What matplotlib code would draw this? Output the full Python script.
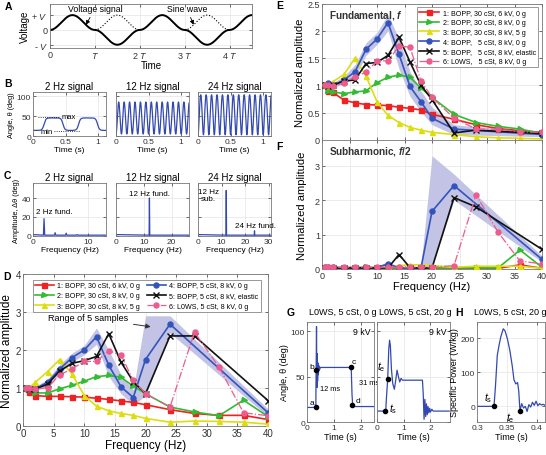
import numpy as np
import matplotlib
matplotlib.use("Agg")
import matplotlib.pyplot as plt

plt.rcParams.update({
    "font.family": ["Liberation Sans", "DejaVu Sans"],
    "mathtext.fontset": "custom",
    "mathtext.rm": "Liberation Sans",
    "mathtext.it": "Liberation Sans:italic",
    "mathtext.bf": "Liberation Sans:bold",
    "mathtext.bfit": "Liberation Sans:bold:italic",
    "axes.linewidth": 0.6,
})

W, H = 546, 456
BLUE = "#3349b0"
GRID = "#e4e4e4"

# ---- panel D/E/F data (normalized amplitude vs frequency) ----
FREQ = [0.5, 1, 2, 4, 6, 8, 10, 12, 14, 16, 18, 20, 24, 28, 32, 36, 40]
FREQ4 = [0.5, 1, 2, 4, 6, 8, 10, 12, 14, 16, 18, 20, 24, 40]
FREQ5 = [0.5, 1, 2, 4, 6, 8, 10, 12, 14, 16, 18, 20, 24, 28, 40]

d1 = [1.0, 0.9, 0.8, 0.78, 0.78, 0.77, 0.76, 0.73, 0.70, 0.66, 0.62, 0.56, 0.43, 0.33, 0.28, 0.28, 0.17]
d2 = [1.0, 0.95, 0.87, 0.87, 0.98, 1.07, 1.18, 1.30, 1.33, 1.28, 1.05, 0.85, 0.50, 0.37, 0.27, 0.68, 0.25]
d3 = [1.0, 1.0, 1.15, 1.43, 1.75, 1.37, 0.80, 0.52, 0.40, 0.33, 0.28, 0.20, 0.10, 0.13, 0.12, 0.10, 0.05]
d4 = [1.0, 0.97, 0.98, 1.15, 1.50, 1.80, 2.00, 2.35, 1.60, 1.03, 0.75, 1.75, 2.68, 0.35]
d5 = [1.0, 0.97, 0.97, 1.10, 1.45, 1.65, 1.72, 1.83, 2.43, 1.68, 1.17, 0.85, 2.37, 2.37, 0.67]
d6 = [1.0, 1.0, 0.98, 1.0, 1.35, 1.50, 1.70, 1.70, 1.98, 1.87, 1.20, 0.85, 0.50, 2.47, 1.55, 0.35, 0.27]
d4_lo = [0.97, 0.92, 0.92, 1.05, 1.38, 1.68, 1.88, 2.15, 1.30, 0.85, 0.55, 0.80, 2.45, 0.25]
d4_hi = [1.03, 1.02, 1.04, 1.23, 1.62, 1.92, 2.12, 2.58, 2.00, 1.35, 0.95, 2.90, 2.90, 0.45]

e1 = [1.0, 0.89, 0.87, 0.73, 0.68, 0.65, 0.64, 0.63, 0.60, 0.58, 0.55, 0.47, 0.38, 0.28, 0.21, 0.17, 0.14]
e2 = [1.0, 0.90, 0.88, 0.85, 0.88, 0.90, 1.05, 1.15, 1.19, 1.15, 0.95, 0.78, 0.47, 0.32, 0.25, 0.20, 0.12]
e3 = [1.0, 1.0, 1.07, 1.20, 1.50, 1.17, 0.70, 0.45, 0.32, 0.23, 0.18, 0.14, 0.10, 0.06, 0.04, 0.03, 0.02]
e4 = [1.0, 1.04, 1.0, 1.10, 1.25, 1.66, 1.85, 2.15, 1.57, 0.98, 0.70, 0.40, 0.20, 0.10]
e5 = [1.0, 0.98, 1.0, 1.08, 1.10, 1.40, 1.42, 1.55, 1.88, 1.43, 1.00, 0.74, 0.13, 0.18, 0.12]
e6 = [1.0, 1.0, 0.98, 1.05, 1.16, 1.24, 1.45, 1.45, 1.72, 1.70, 1.08, 0.78, 0.40, 0.20, 0.20, 0.15, 0.14]
e4_lo = [0.97, 1.0, 0.96, 1.03, 1.15, 1.55, 1.75, 2.00, 1.30, 0.80, 0.52, 0.28, 0.10, 0.06]
e4_hi = [1.03, 1.08, 1.05, 1.17, 1.38, 1.78, 1.97, 2.30, 1.85, 1.25, 0.90, 0.60, 0.28, 0.14]

f1 = [0.02] * 15 + [0.12, 0.02]
f2 = [0.03, 0.03, 0.03, 0.03, 0.03, 0.05, 0.03, 0.03, 0.03, 0.03, 0.03, 0.03, 0.03, 0.03, 0.03, 0.55, 0.05]
f3 = [0.04, 0.04, 0.04, 0.04, 0.04, 0.04, 0.04, 0.05, 0.10, 0.12, 0.12, 0.10, 0.05, 0.08, 0.08, 0.08, 0.02]
f4 = [0.06, 0.06, 0.05, 0.04, 0.04, 0.04, 0.04, 0.15, 0.03, 0.03, 0.03, 1.67, 2.42, 0.28]
f5 = [0.03, 0.03, 0.03, 0.03, 0.03, 0.03, 0.03, 0.03, 0.42, 0.04, 0.03, 0.03, 2.07, 1.80, 0.57]
f6 = [0.05] * 12 + [0.10, 2.15, 1.07, 0.23, 0.15]
f4_lo = [0.02, 0.02, 0.02, 0.02, 0.02, 0.02, 0.02, 0.08, 0.0, 0.0, 0.0, 0.05, 2.00, 0.20]
f4_hi = [0.08, 0.08, 0.08, 0.08, 0.08, 0.08, 0.08, 0.22, 0.06, 0.06, 0.10, 3.28, 2.75, 0.38]

LABELS_D = ["1: BOPP, 30 cSt, 6 kV, 0 g", "2: BOPP, 30 cSt, 8 kV, 0 g",
            "3: BOPP, 30 cSt, 8 kV, 5 g", "4: BOPP, 5 cSt, 8 kV, 0 g",
            "5: BOPP, 5 cSt, 8 kV, elastic", "6: L0WS, 5 cSt, 8 kV, 0 g"]
LABELS_E = ["1: BOPP, 30 cSt, 6 kV, 0 g", "2: BOPP, 30 cSt, 8 kV, 0 g",
            "3: BOPP, 30 cSt, 8 kV, 5 g", "4: BOPP,   5 cSt, 8 kV, 0 g",
            "5: BOPP,   5 cSt, 8 kV, elastic", "6: L0WS,   5 cSt, 8 kV, 0 g"]

# ---- panel C spectra: (frequency, peak amplitude) ----
spec_2hz = [(2, 18), (4, 3), (6, 2.5), (8, 1)]
spec_12hz = [(12, 40)]
spec_24hz = [(12, 48), (24, 5)]

# ---- panel G / H traces ----
g1_t = [0, 0.33, 0.335, 0.345, 0.355, 0.365, 0.375, 0.385, 0.395, 0.41, 0.425, 0.44, 0.46, 0.5, 1.65, 1.68, 1.71, 1.74, 1.78, 2.5]
g1_y = [16, 16, 40, 70, 105, 55, 38, 75, 45, 65, 52, 62, 57, 60, 60, 30, 16, 18, 17, 17]
g1_pts = {"a": (0.33, 16), "b": (0.335, 57), "c": (1.65, 60), "d": (1.69, 19)}
g2_t = [0, 0.30, 0.33, 0.36, 0.40, 0.44, 0.47, 0.50, 0.54, 0.59, 0.65, 0.70, 0.75, 0.80, 0.85, 0.90, 0.95, 1.70, 1.73, 1.76, 1.79,
        1.82, 1.85, 1.88, 1.91, 1.94, 1.97, 2.00, 2.05, 2.10, 2.20, 2.70]
g2_y = [12, 12, 14, 30, 47, 80, 90, 84, 58, 42, 36, 46, 57, 50, 44, 48, 46, 46, 30, 3, 25, 6, 20, 8, 17, 10, 15, 11, 14, 12, 12, 12]
h_t = [0.300, 0.3285, 0.331, 0.334, 0.337, 0.340, 0.344, 0.347, 0.351, 0.355, 0.359, 0.362, 0.365, 0.368, 0.370, 0.372,
       0.375, 0.378, 0.381, 0.384, 0.387, 0.390, 0.393, 0.396, 0.399, 0.402, 0.405, 0.408, 0.411, 0.414]
h_p = [0, 0, 60, 150, 180, 205, 228, 222, 198, 165, 120, 78, 66, 70, 45, -13, 8, -5, 0, -15, 5, -2, 12, 3, 15, 2, 8, 4, 6, 3]


def px_axes(x0, y0, x1, y1):
    return fig.add_axes([x0 / W, 1 - y1 / H, (x1 - x0) / W, (y1 - y0) / H])


def style(ax, grid=True, ls=6):
    ax.tick_params(direction="in", length=2, width=0.5, labelsize=ls, pad=1.5,
                   colors="#333333", top=True, right=True)
    for s in ax.spines.values():
        s.set_color("#777777")
    if grid:
        ax.grid(True, color=GRID, lw=0.5)
        ax.set_axisbelow(True)


fig = plt.figure(figsize=(W / 100, H / 100), dpi=100)

# ---------------- A ----------------
ax = px_axes(50, 5, 252, 49)
t = np.linspace(0, 4.5, 1200)
hump = np.sin(np.pi * t) ** 2
sign = np.where(np.floor(t) % 2 == 0, 1.0, -1.0)
ax.plot(t, hump * sign, color="k", lw=1.4)
ax.plot(t, np.where(sign < 0, hump, np.nan), color="k", lw=0.8, ls=":")
ax.set_xlim(0, 4.5)
ax.set_ylim(-1.22, 1.75)
ax.set_xticks([0, 1, 2, 3, 4])
ax.set_xticklabels(["0", "$T$", "2 $T$", "3 $T$", "4 $T$"])
ax.set_yticks([-1, 0, 1])
ax.set_yticklabels(["- $V$", "0", "+ $V$"])
style(ax, ls=6.5)
ax.set_xlabel("Time", fontsize=7, labelpad=0)
ax.set_ylabel("Voltage", fontsize=7, labelpad=1)
arrow = dict(arrowstyle="-|>", color="k", lw=0.6, mutation_scale=6, shrinkA=1, shrinkB=0)
ax.annotate("Voltage signal", xy=(0.8, 0.35), xytext=(1.0, 1.42), ha="center", va="center",
            fontsize=6.3, arrowprops=arrow)
ax.annotate("Sine wave", xy=(3.2, 0.35), xytext=(3.05, 1.42), ha="center", va="center",
            fontsize=6.3, arrowprops=arrow)

# ---------------- B ----------------
B_X = [(33, 106), (116, 189), (198, 271)]
tb = np.linspace(0, 1.12, 2000)
c = np.cos(2 * np.pi * (tb - 0.58) / 0.53)
theta2 = 29.5 - 15.5 * np.tanh(3 * (c - 0.15)) / np.tanh(3 * 0.85)
theta12 = 45 - 40 * np.cos(2 * np.pi * 12 * tb)
theta24 = 56 - 50 * np.cos(2 * np.pi * 12 * tb) - 3 * np.cos(2 * np.pi * 24 * tb)
for i, (sig, ttl) in enumerate([(theta2, "2 Hz signal"), (theta12, "12 Hz signal"), (theta24, "24 Hz signal")]):
    ax = px_axes(B_X[i][0], 93, B_X[i][1], 137)
    ax.plot(tb, sig, color=BLUE, lw=0.9)
    ax.set_xlim(0, 1.12)
    ax.set_ylim(0, 110)
    ax.set_xticks([0, 0.5, 1])
    ax.set_xticklabels(["0", "0.5", "1"])
    ax.set_yticks([0, 50, 100])
    style(ax)
    ax.set_title(ttl, fontsize=7, pad=2)
    ax.set_xlabel("Time (s)", fontsize=6, labelpad=1)
    if i == 0:
        ax.set_ylabel("Angle, θ (deg)", fontsize=5.3, labelpad=1)
        ax.plot([0.07, 0.42], [47, 47], color="k", lw=0.6, ls=":")
        ax.text(0.44, 48, "max", fontsize=5.5, va="center")
        ax.plot([0.32, 0.72], [12, 12], color="k", lw=0.6, ls=":")
        ax.text(0.30, 12, "min", fontsize=5.5, va="center", ha="right")
    else:
        ax.set_yticklabels([])

# ---------------- C ----------------
C_XLIM = [13.2, 26.2, 31]
C_XT = [[0, 10], [0, 10, 20], [0, 10, 20, 30]]
for i, spec in enumerate([spec_2hz, spec_12hz, spec_24hz]):
    ax = px_axes(B_X[i][0], 184, B_X[i][1], 237)
    fx, fy = [0.0], [1.0]
    for f0, a0 in spec:
        fx += [f0 - 0.12, f0, f0 + 0.12]
        fy += [0.4, a0, 0.4]
    fx.append(C_XLIM[i])
    fy.append(0.4)
    ax.plot(fx, fy, color=BLUE, lw=0.9)
    ax.set_xlim(0, C_XLIM[i])
    ax.set_ylim(-0.5, 56)
    ax.set_xticks(C_XT[i])
    ax.set_yticks([0, 20, 40])
    style(ax)
    ax.set_title(["2 Hz signal", "12 Hz signal", "24 Hz signal"][i], fontsize=7, pad=2)
    ax.set_xlabel("Frequency (Hz)", fontsize=6, labelpad=1)
    if i == 0:
        ax.set_ylabel("Amplitude, Δθ (deg)", fontsize=5.3, labelpad=1)
        ax.text(3.8, 26, "2 Hz fund.", fontsize=5.8, ha="center", va="center")
    else:
        ax.set_yticklabels([])
    if i == 1:
        ax.text(12, 44.5, "12 Hz fund.", fontsize=5.8, ha="center", va="center")
    if i == 2:
        ax.text(4.6, 43, "12 Hz\nsub.", fontsize=5.8, ha="center", va="center", linespacing=1.0)
        ax.text(24.5, 11, "24 Hz fund.", fontsize=5.8, ha="center", va="center")

# ---------------- D / E / F ----------------
SERIES = [
    dict(color="#ee2222", marker="s", ls="-", mfc="#ee2222"),
    dict(color="#33bb33", marker=">", ls="-", mfc="#33bb33"),
    dict(color="#dddd11", marker="^", ls="-", mfc="#dddd11"),
    dict(color="#3355bb", marker="o", ls="-", mfc="#3355bb"),
    dict(color="#111111", marker="x", ls="-", mfc="#111111"),
    dict(color="#ee5b8d", marker="o", ls="-.", mfc="#ee5b8d"),
]
BAND = "#c3c3e6"


def draw_set(ax, ys, band, lw=1.2, ms=3.6):
    xs = [FREQ, FREQ, FREQ, FREQ4, FREQ5, FREQ]
    ax.fill_between(FREQ4, band[0], band[1], color=BAND, lw=0, zorder=1)
    handles = []
    for k in range(6):
        s = SERIES[k]
        h, = ax.plot(xs[k], ys[k], color=s["color"], ls=s["ls"], lw=lw if k != 5 else 0.9,
                     marker=s["marker"], ms=ms if s["marker"] != "x" else 4,
                     mfc=s["mfc"], mec=s["color"], mew=1.0, zorder=3 + k * 0.1)
        handles.append(h)
    return handles


def frame(leg):
    leg.get_frame().set_edgecolor("#888888")
    leg.get_frame().set_linewidth(0.6)


ax = px_axes(23, 275, 268, 427)
hd = draw_set(ax, [d1, d2, d3, d4, d5, d6], (d4_lo, d4_hi))
ax.set_xlim(0, 40)
ax.set_ylim(0, 4)
ax.set_xticks(range(0, 41, 5))
ax.set_yticks(range(0, 5))
style(ax, ls=7)
ax.set_xlabel("Frequency (Hz)", fontsize=8.5, labelpad=1)
ax.set_ylabel("Normalized amplitude", fontsize=8.5, labelpad=2)
ax.annotate("Range of 5 samples", xy=(21.3, 2.6), xytext=(10.6, 2.85), ha="center", va="center",
            fontsize=6.5, arrowprops=dict(arrowstyle="-|>", color="#333333", lw=0.7, mutation_scale=7))
leg = ax.legend(hd, LABELS_D, ncol=2, loc="upper center", bbox_to_anchor=(0.505, 0.985), fontsize=5.1,
                handlelength=2.6, labelspacing=0.45, columnspacing=1.0, borderpad=0.35, handletextpad=0.5,
                fancybox=False, framealpha=1)
frame(leg)

ax = px_axes(322, 4.5, 542, 141)
he = draw_set(ax, [e1, e2, e3, e4, e5, e6], (e4_lo, e4_hi))
ax.set_xlim(0, 40)
ax.set_ylim(0, 2.5)
ax.set_xticks(range(0, 41, 5))
ax.set_xticklabels([])
ax.set_yticks([0, 0.5, 1, 1.5, 2, 2.5])
ax.set_yticklabels(["0", "0.5", "1", "1.5", "2", "2.5"])
style(ax, ls=6.5)
ax.set_ylabel("Normalized amplitude", fontsize=8, labelpad=2)
ax.text(0.03, 0.965, r"Fundamental, $\mathbfit{f}$", transform=ax.transAxes, fontsize=7.2,
        fontweight="bold", color="#333333", ha="left", va="top")
leg = ax.legend(he, LABELS_E, loc="upper right", bbox_to_anchor=(1.0, 1.0), fontsize=5.1,
                handlelength=2.8, labelspacing=0.38, borderpad=0.35, handletextpad=0.5,
                fancybox=False, framealpha=1)
frame(leg)

ax = px_axes(322, 141, 542, 270)
draw_set(ax, [f1, f2, f3, f4, f5, f6], (f4_lo, f4_hi))
ax.set_xlim(0, 40)
ax.set_ylim(0, 3.74)
ax.set_xticks(range(0, 41, 5))
ax.set_yticks([0, 1, 2, 3])
style(ax, ls=6.5)
ax.set_xlabel("Frequency (Hz)", fontsize=8, labelpad=1)
ax.set_ylabel("Normalized amplitude", fontsize=8, labelpad=6)
ax.text(0.03, 0.97, r"Subharmonic, $\mathbfit{f}$/2", transform=ax.transAxes, fontsize=7.2,
        fontweight="bold", color="#333333", ha="left", va="top")

# ---------------- G ----------------
dot = dict(marker="o", ms=3, color="k", ls="none", zorder=5)
ax = px_axes(307, 323, 374, 423)
ax.plot(g1_t, g1_y, color=BLUE, lw=0.9)
for k, (px, py) in g1_pts.items():
    ax.plot(px, py, **dot)
ax.text(0.18, 21, "a", fontsize=6, ha="center", va="center")
ax.text(0.16, 61, "b", fontsize=6, ha="center", va="center")
ax.text(1.74, 67, "c", fontsize=6, ha="center", va="center")
ax.text(1.90, 24, "d", fontsize=6, ha="center", va="center")
ax.text(0.48, 37, "12 ms", fontsize=5.3, ha="left", va="center")
ax.text(1.93, 43, "31 ms", fontsize=5.3, ha="left", va="center")
ax.text(0.95, 0.95, "9 kV", transform=ax.transAxes, fontsize=6.3, ha="right", va="top")
ax.set_xlim(0, 2.5)
ax.set_ylim(0, 110)
ax.set_xticks([0, 1, 2])
ax.set_yticks([0, 50, 100])
style(ax)
ax.set_xlabel("Time (s)", fontsize=6.5, labelpad=1)
ax.set_ylabel("Angle, θ (deg)", fontsize=6.5, labelpad=1)

ax = px_axes(377, 323, 450, 423)
ax.plot(g2_t, g2_y, color=BLUE, lw=0.9)
ax.plot(0.30, 12, **dot)
ax.plot(0.40, 47, **dot)
ax.text(0.17, 61, r"$t_{\rm e}$", fontsize=7.5, ha="center", va="center")
ax.text(0.60, 15, r"$t_{\rm s}$", fontsize=7.5, ha="center", va="center")
ax.text(0.95, 0.95, "9 kV", transform=ax.transAxes, fontsize=6.3, ha="right", va="top")
ax.set_xlim(0, 2.73)
ax.set_ylim(0, 110)
ax.set_xticks([0, 1, 2])
ax.set_yticks([0, 50, 100])
ax.set_yticklabels([])
style(ax)
ax.set_xlabel("Time (s)", fontsize=6.5, labelpad=1)

# ---------------- H ----------------
ax = px_axes(477, 323, 545, 423)
ax.plot(h_t, h_p, color=BLUE, lw=0.9)
ax.plot(0.3285, 0, **dot)
ax.plot(0.372, -13, **dot)
ax.text(0.319, 27, r"$t_{\rm s}$", fontsize=7.5, ha="center", va="center")
ax.text(0.356, -31, r"$t_{\rm e}$", fontsize=7.5, ha="center", va="center")
ax.set_xlim(0.3, 0.414)
ax.set_ylim(-46, 248)
ax.set_xticks([0.3, 0.35, 0.4])
ax.set_xticklabels(["0.3", "0.35", "0.4"])
ax.set_yticks([0, 100, 200])
style(ax)
ax.set_xlabel("Time (s)", fontsize=6.5, labelpad=1)
ax.set_ylabel("Specific Power (W/kg)", fontsize=6.5, labelpad=1)

# ---------------- titles and panel letters ----------------
for x, txt in [(343, "L0WS, 5 cSt, 0 g"), (415, "L0WS, 5 cSt, 20 g"), (510, "L0WS, 5 cSt, 20 g")]:
    fig.text(x / W, 1 - 313 / H, txt, fontsize=6.5, ha="center", va="center")
for x, y, letter in [(5, 7, "A"), (4, 84, "B"), (4, 176, "C"), (3, 277, "D"),
                     (276, 6, "E"), (276, 147, "F"), (287, 313, "G"), (455, 313, "H")]:
    fig.text(x / W, 1 - y / H, letter, fontsize=7.5, fontweight="bold", ha="left", va="center")

fig.savefig("out.png", dpi=100, facecolor="white")
